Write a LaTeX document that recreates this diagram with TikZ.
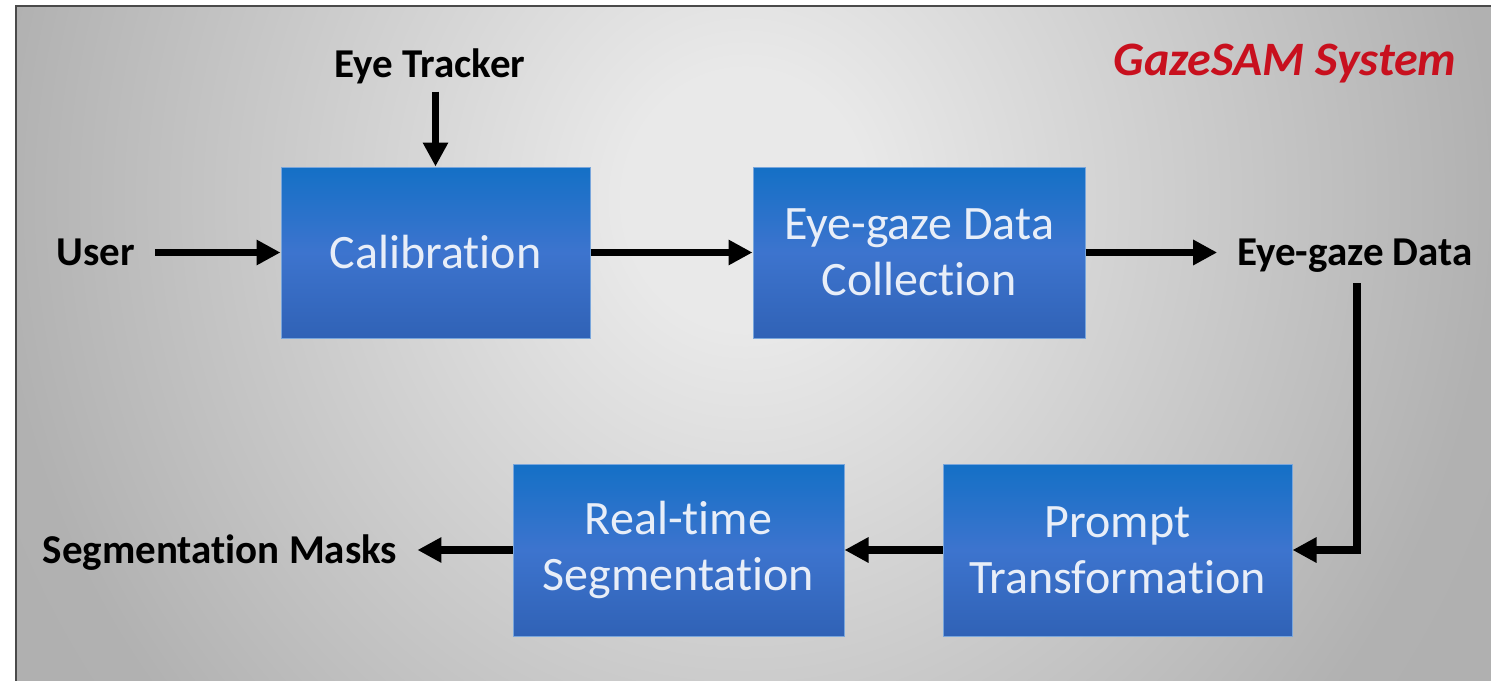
\documentclass[tikz,border=0pt]{standalone}
\usepackage{fontspec}
\setmainfont{Carlito}[Ligatures={NoCommon}]
\usetikzlibrary{arrows.meta}

\definecolor{bgA}{HTML}{E9E9E9}
\definecolor{bgB}{HTML}{B1B1B1}
\definecolor{bgC}{HTML}{A8A8A8}
\definecolor{framec}{HTML}{4A4A4A}
\definecolor{boxtop}{HTML}{1470C6}
\definecolor{boxmid}{HTML}{3D74CE}
\definecolor{boxbot}{HTML}{3062B6}
\definecolor{boxedge}{HTML}{79A6DC}
\definecolor{boxtext}{HTML}{E8EEF8}
\definecolor{titlered}{HTML}{C8101E}

% soft grey panel, brightest near the upper middle
\pgfdeclareradialshading{panelshade}{\pgfpoint{0bp}{0bp}}{%
  color(0bp)=(bgA); color(4bp)=(bgA); color(25bp)=(bgB); color(50bp)=(bgC)}

\begin{document}
\begin{tikzpicture}[x=1pt,y=-1pt,
  stage/.style={draw=boxedge, line width=1pt,
    top color=boxtop, bottom color=boxbot, middle color=boxmid,
    text=boxtext, align=center, inner sep=0pt,
    font=\fontsize{48}{56}\selectfont},
  lbl/.style={inner sep=0pt, anchor=base, text=black,
    font=\bfseries\fontsize{41}{48}\selectfont},
  flow/.style={draw=black, line width=7.5pt,
    -{Triangle[length=24pt,width=24pt]}}
]
\useasboundingbox (0,0) rectangle (1491,680);
\fill[white] (0,0) rectangle (1491,680);

% background panel and its frame
\begin{scope}
  \clip (16,6) rectangle (1491,680);
  \shade[shading=panelshade] (-5,-600) rectangle (1495,1000);
\end{scope}
\draw[framec, line width=2pt] (16,6) rectangle (1510,700);

% processing stages
\node[stage, minimum width=309pt, minimum height=171pt] (cal) at (435.5,252.5) {Calibration};
\node[stage, minimum width=332pt, minimum height=171pt] (egdc) at (919,252.5) {Eye-gaze Data\\Collection};
\node[stage, minimum width=349pt, minimum height=172pt] (pt) at (1117.5,550) {Prompt\\Transformation};
\node[stage, minimum width=331pt, minimum height=172pt] (rts) at (678.5,550) {Real-time\\Segmentation};

% inputs and outputs
\node[lbl] (user) at (95.5,265) {User};
\node[lbl] (tracker) at (430,77) {Eye Tracker};
\node[lbl] (egd) at (1355,265) {Eye-gaze Data};
\node[lbl] (masks) at (220,563) {Segmentation Masks};
\node[lbl, text=titlered, font=\bfseries\itshape\fontsize{48}{56}\selectfont] (title) at (1285,75) {GazeSAM System};

% connectors
\draw[flow, shorten <=20pt] (user.east |- cal.west) -- (cal.west);
\draw[flow, shorten <=8pt] (cal.north |- tracker.south) -- (cal.north);
\draw[flow] (cal.east) -- (egdc.west);
\draw[flow, shorten >=20pt] (egdc.east) -- (egdc.east -| egd.west);
\draw[flow, line join=miter, shorten <=11pt] ([xshift=2pt]egd.south) |- (pt.east);
\draw[flow] (pt.west) -- (rts.east);
\draw[flow, shorten >=20pt] (rts.west) -- (rts.west -| masks.east);
\end{tikzpicture}
\end{document}
